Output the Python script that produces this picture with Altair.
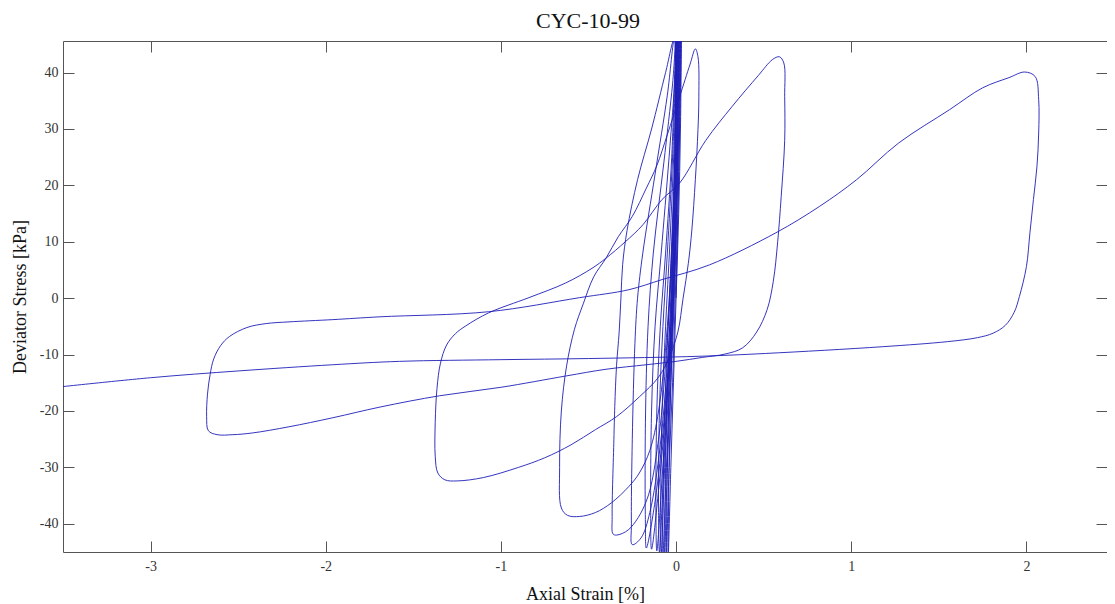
import altair as alt
import pandas as pd

# ---- texts ----
chart_title = ["CYC-10-99"]
x_title = "Axial Strain [%]"
y_title = "Deviator Stress [kPa]"

# ---- data: hysteresis path (chronological) ----
early_strain = [0.00, 0.01, 0.02, 0.03,
                0.025, 0.015, 0.0, -0.015, -0.03, -0.045,
                -0.04, -0.03, -0.015, 0.0, 0.015, 0.025,
                0.02, 0.01, -0.005, -0.02, -0.04, -0.055,
                -0.05, -0.04, -0.025, -0.01, 0.01, 0.02,
                0.015, 0.005, -0.01, -0.03, -0.05, -0.065,
                -0.06, -0.05, -0.03, -0.015, 0.005, 0.015,
                0.01, 0.0, -0.015, -0.035, -0.055, -0.075,
                -0.075, -0.065, -0.045, -0.025, -0.005, 0.01,
                0.01, 0.0, -0.02, -0.04, -0.065, -0.085,
                -0.088, -0.08, -0.06, -0.035, -0.01, 0.01,
                0.005, -0.005, -0.02, -0.045, -0.07, -0.095,
                -0.1, -0.095, -0.075, -0.05, -0.02, 0.005]
early_stress = [0.0, 15, 30, 46,
                30, 15, 0, -15, -30, -46,
                -30, -15, 0, 15, 30, 46,
                30, 15, 0, -15, -30, -46,
                -30, -15, 0, 15, 30, 46,
                30, 15, 0, -15, -30, -46,
                -30, -15, 0, 15, 30, 46,
                30, 15, 0, -15, -30, -45.5,
                -35, -20, -5, 10, 28, 46,
                30, 12, -3, -15, -30, -45.3,
                -38, -20, -5, 10, 28, 46,
                30, 12, -3, -15, -30, -45,
                -38, -20, -5, 8, 25, 46]

mid_strain = [0.005, -0.005, -0.025, -0.05, -0.08, -0.11,
              -0.115, -0.11, -0.09, -0.06, -0.025, 0.0,
              0.0, -0.01, -0.03, -0.06, -0.1, -0.14,
              -0.145, -0.14, -0.12, -0.085, -0.04, -0.005, 0.0,
              0.0, -0.01, -0.03, -0.07, -0.12, -0.17,
              -0.175, -0.175, -0.16, -0.13, -0.07, -0.02, 0.0,
              0.0, -0.015, -0.04, -0.09, -0.15, -0.2, -0.25,
              -0.255, -0.25, -0.235, -0.22, -0.19, -0.12, -0.05, -0.01,
              -0.005, -0.02, -0.05, -0.1, -0.17, -0.27, -0.34, -0.36,
              -0.365, -0.355, -0.35, -0.34, -0.325, -0.315, -0.305, -0.28, -0.22, -0.14, -0.06, -0.01]
mid_stress = [30, 12, -3, -17, -32, -44.8,
              -38, -20, -5, 8, 25, 46,
              30, 12, -5, -20, -34, -44.5,
              -38, -20, -5, 8, 25, 40, 46,
              30, 12, -5, -22, -36, -44.3,
              -40, -22, -5, 8, 24, 38, 46,
              30, 10, -7, -26, -38, -42.5, -43.7,
              -40, -25, -8, 0, 8, 22, 36, 46,
              30, 10, -7, -25, -36, -41, -42, -41.8,
              -38.7, -25, -19.2, -12, -6, 0, 6, 12, 21, 30, 40, 46]

# loop with extension trough near -0.6 and compression peak near 0.12
loop06_strain = [-0.005, -0.02, -0.05, -0.1, -0.15, -0.21, -0.27, -0.37, -0.46, -0.55, -0.62,
                 -0.655, -0.665, -0.655, -0.625, -0.58, -0.53, -0.47, -0.40, -0.33, -0.25, -0.17,
                 -0.11, -0.05, 0.02, 0.08, 0.11]
loop06_stress = [30, 12, -5, -20, -27, -31, -33.4, -36.3, -38, -38.7, -38.5,
                 -37.2, -30, -20, -12, -5.5, -1.0, 3.8, 7.1, 10.9, 14.5, 19.5,
                 23.5, 29, 35.7, 41.5, 44.2]

# unloading from 0.12 peak to trough near -1.33, reloading to 0.59 peak
loop13_strain = [0.125, 0.13, 0.125, 0.11, 0.09, 0.07, 0.04, 0.01, -0.04, -0.1, -0.21, -0.34,
                 -0.46, -0.6, -0.75, -0.9, -1.1, -1.25, -1.32,
                 -1.36, -1.375, -1.375, -1.365, -1.345, -1.31, -1.26, -1.2, -1.07, -0.84, -0.63,
                 -0.48, -0.40, -0.29, -0.19, -0.08, 0.02, 0.17, 0.32, 0.47, 0.55, 0.59]
loop13_stress = [42.8, 35.7, 29.9, 21, 12.1, 6.2, 0, -6, -10.5, -14, -17.5, -21,
                 -23.3, -26, -28.3, -30, -31.8, -32.4, -32.2,
                 -31, -28, -22, -16, -11.5, -8.3, -6.3, -4.9, -2.6, 0.1, 2.7,
                 5.3, 7.1, 10, 13, 17.5, 20.4, 28, 34, 39.5, 42.3, 42.8]

# unloading from 0.59 peak to trough near -2.65, reloading to 2.0 peak
loop26_strain = [0.615, 0.62, 0.62, 0.60, 0.58, 0.555, 0.52, 0.46, 0.38, 0.28, 0.15, 0.0,
                 -0.17, -0.4, -0.63, -1.0, -1.35, -1.69, -1.96, -2.21, -2.42, -2.53, -2.62,
                 -2.67, -2.68, -2.675, -2.66, -2.64, -2.60, -2.55, -2.45, -2.34, -2.21, -1.96,
                 -1.69, -1.07, -0.55, -0.27, -0.08, 0.19, 0.57, 0.82, 1.03, 1.27, 1.56,
                 1.75, 1.9, 1.99]
loop26_stress = [41.7, 35.7, 28, 18, 10, 3, -2, -6, -8.8, -9.9, -10.5, -11.2,
                 -11.8, -12.6, -13.8, -15.8, -17.3, -19.3, -21.2, -22.8, -23.9, -24.2, -24.2,
                 -23.5, -21, -17, -13.5, -10.8, -8.4, -6.8, -5.2, -4.5, -4.2, -3.8,
                 -3.3, -2.4, 0.1, 1.5, 3.3, 5.9, 11.6, 16.3, 21, 27.5, 33.4,
                 37.3, 39.1, 40.1]

# final unloading from 2.0 peak and extension flow beyond the left edge
final_strain = [2.05, 2.07, 2.07, 2.06, 2.04, 2.02, 2.0, 1.96, 1.93, 1.88, 1.81, 1.72, 1.55,
                1.18, 0.51, 0.13, -0.5, -1.0, -1.58, -1.96, -2.5, -3.0, -3.6]
final_stress = [39.3, 35.2, 29.3, 23.3, 17.5, 11.6, 5.6, 0.3, -2.5, -4.8, -6.2, -7.0, -7.7,
                -8.6, -9.8, -10.3, -10.7, -10.9, -11.2, -11.8, -12.9, -14.1, -16.0]

x_ticks = [-3, -2, -1, 0, 1, 2]
y_ticks = [-40, -30, -20, -10, 0, 10, 20, 30, 40]

strain = early_strain + mid_strain + loop06_strain + loop13_strain + loop26_strain + final_strain
stress = early_stress + mid_stress + loop06_stress + loop13_stress + loop26_stress + final_stress
df = pd.DataFrame({"i": list(range(len(strain))), "strain": strain, "stress": stress})

W, H = 1044, 511
xscale = alt.Scale(domain=[-3.5, 2.46], nice=False, zero=False)
yscale = alt.Scale(domain=[-45, 45.6], nice=False, zero=False)
SERIF = "Liberation Serif"
AXC = "#555555"

line = alt.Chart(df).mark_line(color="#1e1eb8", strokeWidth=0.9, clip=True,
                               interpolate="catmull-rom").encode(
    x=alt.X("strain:Q", scale=xscale,
            axis=alt.Axis(orient="bottom", values=x_ticks, title=x_title,
                          ticks=False, tickSize=0, grid=False, domain=True, domainColor=AXC,
                          labelExpr="'' + datum.value", labelFont=SERIF, labelFontSize=14,
                          labelColor="#333333", labelPadding=7, titleFont=SERIF,
                          titleFontSize=18, titleFontWeight="normal", titleColor="#111111",
                          titlePadding=12)),
    y=alt.Y("stress:Q", scale=yscale,
            axis=alt.Axis(orient="left", values=y_ticks, title=y_title,
                          ticks=False, tickSize=0, grid=False, domain=True, domainColor=AXC,
                          labelExpr="'' + datum.value", labelFont=SERIF, labelFontSize=14,
                          labelColor="#333333", labelPadding=5, titleFont=SERIF,
                          titleFontSize=18, titleFontWeight="normal", titleColor="#111111",
                          titlePadding=10)),
    order="i:Q",
)

ticks_a = alt.Chart(df).mark_point(opacity=0).encode(
    x=alt.X("strain:Q", scale=xscale,
            axis=alt.Axis(orient="bottom", offset=-H, values=x_ticks, labels=False, title=None,
                          ticks=True, tickSize=11, tickColor=AXC, domain=True, domainColor=AXC,
                          grid=False)),
    y=alt.Y("stress:Q", scale=yscale,
            axis=alt.Axis(orient="left", offset=-W, values=y_ticks, labels=False, title=None,
                          ticks=True, tickSize=11, tickColor=AXC, domain=True, domainColor=AXC,
                          grid=False)),
)

ticks_b = alt.Chart(df).mark_point(opacity=0).encode(
    x=alt.X("strain:Q", scale=xscale,
            axis=alt.Axis(orient="top", offset=-H, values=x_ticks, labels=False, title=None,
                          ticks=True, tickSize=11, tickColor=AXC, domain=False, grid=False)),
    y=alt.Y("stress:Q", scale=yscale,
            axis=alt.Axis(orient="right", offset=-W, values=y_ticks, labels=False, title=None,
                          ticks=True, tickSize=11, tickColor=AXC, domain=False, grid=False)),
)

title_mark = alt.Chart(pd.DataFrame({"t": chart_title})).mark_text(
    font=SERIF, fontSize=22, color="#111111", align="center", baseline="alphabetic"
).encode(text="t:N", x=alt.value(W / 2 + 3), y=alt.value(-13))

chart = alt.layer(line, ticks_a, ticks_b, title_mark).resolve_axis(
    x="independent", y="independent"
).properties(
    width=W, height=H,
    autosize=alt.AutoSizeParams(type="none"),
    padding={"left": 55, "top": 33, "right": 0, "bottom": 52},
).configure_view(stroke=None)

chart.save("out.html", embed_options={"renderer": "svg", "actions": False})
